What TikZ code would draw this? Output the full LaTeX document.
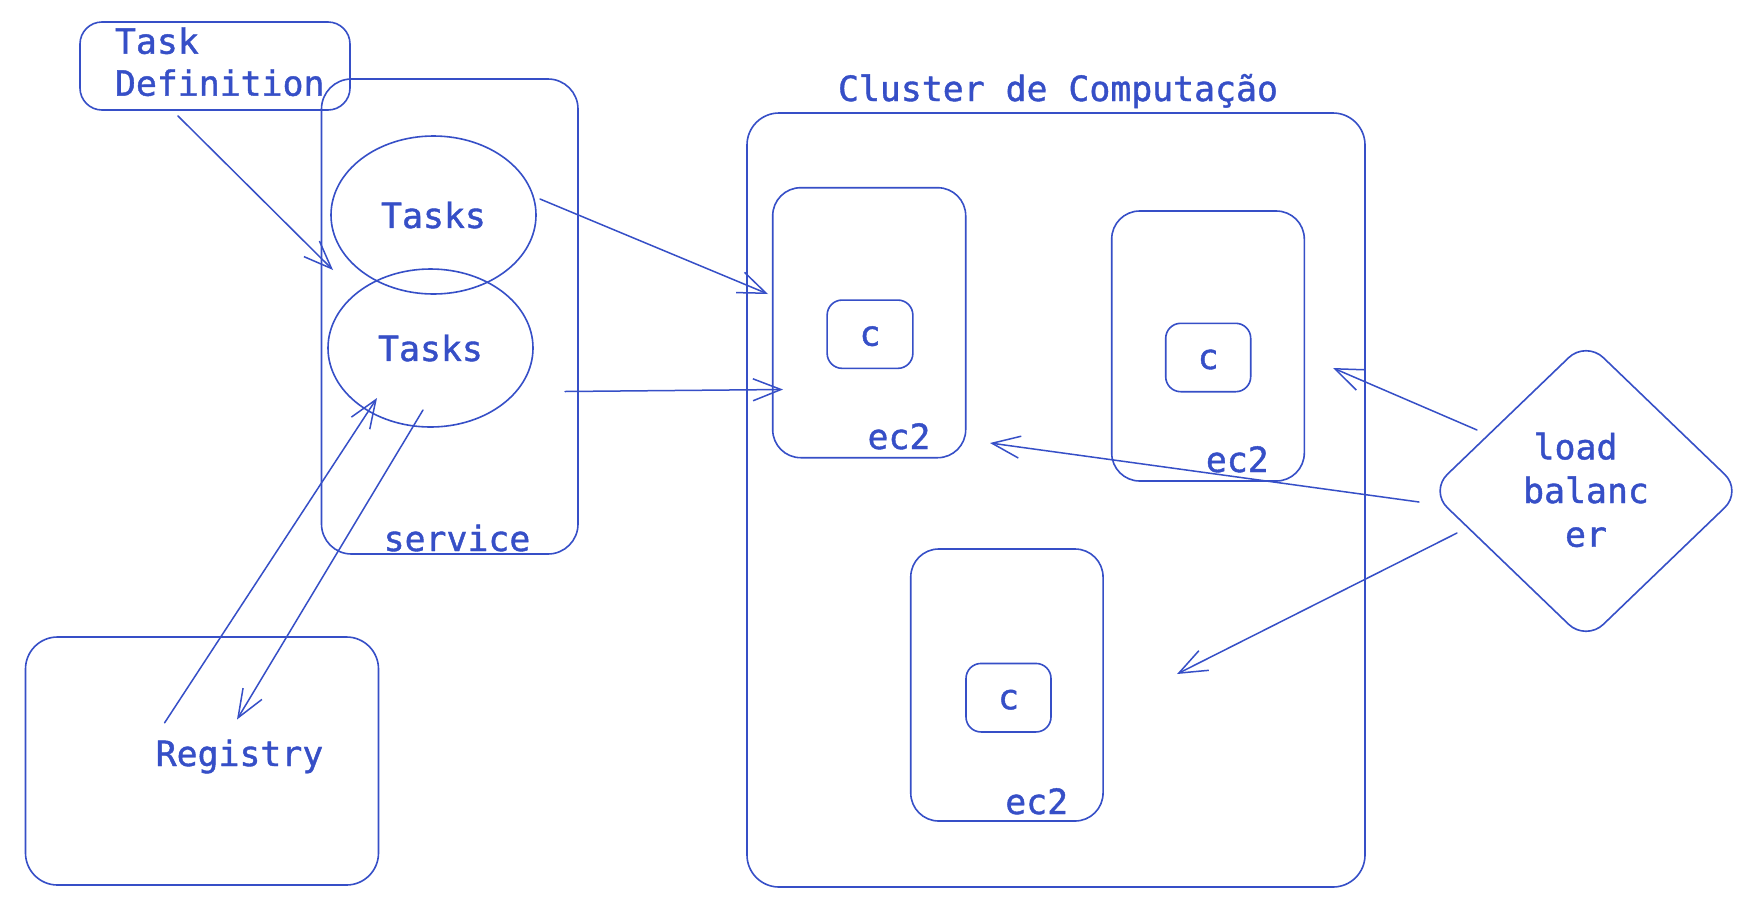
\documentclass[tikz,border=0pt]{standalone}
\usepackage{fontspec}
\setmonofont[FakeBold=1.2]{DejaVu Sans Mono}
\usetikzlibrary{arrows.meta,shapes.geometric}
\definecolor{ink}{HTML}{364FC7}
\begin{document}
\begin{tikzpicture}[x=1pt,y=-1pt,
  every node/.style={inner sep=0pt, outer sep=0pt},
  box/.style={draw=ink, line width=1.6pt, rectangle, rounded corners=#1},
  box/.default=28pt,
  lbl/.style={text=ink, font=\fontsize{34.8}{43}\selectfont\ttfamily},
  cbox/.style={lbl, box=15pt, text height=23pt, text depth=0pt},
  conn/.style={draw=ink, line width=1.5pt, line cap=round, line join=round,
    -{Straight Barb[length=28pt,width=22pt,line width=1.5pt]}}
]
\path[use as bounding box, fill=white] (0,0) rectangle (1745,919);

% service group
\node[box=30pt, minimum width=256.5pt, minimum height=475pt] (service) at (449.75,316.5) {};
\node[lbl, anchor=base] (servicetext) at (457,551) {service};

% task definition
\node[box=22pt, minimum width=270pt, minimum height=88pt] (taskdef) at (215,66) {};
\node[lbl, anchor=base west, align=left, font=\fontsize{34.8}{42}\selectfont\ttfamily] (taskdeftext) at (115,95.7) {Task\\Definition};

% tasks
\node[lbl, draw=ink, line width=1.6pt, ellipse, minimum width=205pt, minimum height=158pt] (tasks1) at (433.5,215) {Tasks};
\node[lbl, draw=ink, line width=1.6pt, ellipse, minimum width=205pt, minimum height=158pt] (tasks2) at (430.5,348) {Tasks};

% registry
\node[box=32pt, minimum width=353pt, minimum height=248pt] (registry) at (202,761) {};
\node[lbl, anchor=base] (registrytext) at (239.5,766) {Registry};

% cluster
\node[box=32pt, minimum width=618pt, minimum height=774pt] (cluster) at (1056,500) {};
\node[lbl, anchor=base] (clustertext) at (1058,101) {Cluster de Computação};

% ec2 instances
\node[box=28pt, minimum width=193pt, minimum height=270pt] (ec2a) at (869.2,322.7) {};
\node[lbl, anchor=base] (ec2alabel) at (899,449) {ec2};
\node[cbox, minimum width=85.7pt, minimum height=68.3pt] (ca) at (870,334.2) {c};

\node[box=28pt, minimum width=192.6pt, minimum height=270pt] (ec2b) at (1208,346) {};
\node[lbl, anchor=base] (ec2blabel) at (1237.3,472) {ec2};
\node[cbox, minimum width=85pt, minimum height=68.4pt] (cb) at (1208.2,357.5) {c};

\node[box=28pt, minimum width=192.3pt, minimum height=272pt] (ec2c) at (1006.9,685) {};
\node[lbl, anchor=base] (ec2clabel) at (1036.7,814) {ec2};
\node[cbox, minimum width=85pt, minimum height=68.5pt] (cc) at (1008.5,697.7) {c};

% load balancer
\node[draw=ink, line width=1.6pt, diamond, rounded corners=24pt, minimum width=312pt, minimum height=300pt] (lb) at (1586,491) {};
\node[lbl, align=center, anchor=base, font=\fontsize{34.8}{43.7}\selectfont\ttfamily] (lbtext) at (1586,546.7) {load\hphantom{l}\\balanc\\er};

% connector ends
\coordinate (tdout) at (178,116);   \coordinate (t1in) at (333,270);
\coordinate (t1out) at (540,199);   \coordinate (ec2ain) at (768,294);
\coordinate (t2out) at (565,391.5); \coordinate (ec2ain2) at (783,389.5);
\coordinate (regout) at (164.6,722.8); \coordinate (t2in) at (377,398);
\coordinate (t2down) at (423,410);  \coordinate (regin) at (237,719.5);
\coordinate (lbout1) at (1477,430); \coordinate (ec2bin) at (1333,368);
\coordinate (lbout2) at (1419,502); \coordinate (ec2ain3) at (990,443);
\coordinate (lbout3) at (1457,533); \coordinate (ec2cin) at (1177,674);

\draw[conn] (tdout) -- (t1in);
\draw[conn] (t1out) -- (ec2ain);
\draw[conn] (t2out) -- (ec2ain2);
\draw[conn] (regout) -- (t2in);
\draw[conn] (t2down) -- (regin);
\draw[conn] (lbout1) -- (ec2bin);
\draw[conn] (lbout2) -- (ec2ain3);
\draw[conn] (lbout3) -- (ec2cin);
\end{tikzpicture}
\end{document}
